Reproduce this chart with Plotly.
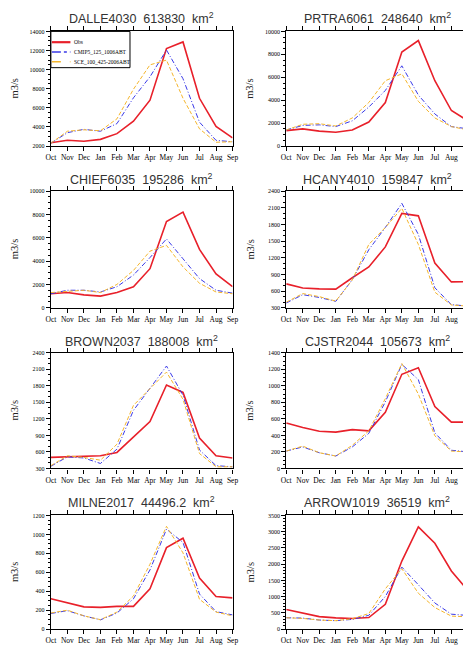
import plotly.graph_objects as go

months = ["Oct", "Nov", "Dec", "Jan", "Feb", "Mar", "Apr", "May", "Jun", "Jul", "Aug", "Sep"]
series_names = ["Obs", "CMIP5_125_1006ABT", "SCE_100_425-2006ABT"]

titles = [
    "DALLE4030  613830  km<sup>2</sup>",
    "PRTRA6061  248640  km<sup>2</sup>",
    "CHIEF6035  195286  km<sup>2</sup>",
    "HCANY4010  159847  km<sup>2</sup>",
    "BROWN2037  188008  km<sup>2</sup>",
    "CJSTR2044  105673  km<sup>2</sup>",
    "MILNE2017  44496.2  km<sup>2</sup>",
    "ARROW1019  36519  km<sup>2</sup>",
]

dalle_obs = [2350, 2600, 2500, 2700, 3300, 4600, 6800, 12200, 12900, 7000, 4050, 2850]
dalle_cmip = [2300, 3400, 3750, 3550, 4350, 7050, 9250, 12050, 9050, 4500, 2600, 2450]
dalle_sce = [2300, 3550, 3700, 3600, 4850, 7950, 10500, 11000, 7000, 3800, 2400, 2450]

prtra_obs = [1350, 1500, 1300, 1200, 1400, 2100, 3800, 8200, 9200, 5700, 3100, 2200]
prtra_cmip = [1400, 1800, 1850, 1700, 2200, 3400, 4850, 7000, 4450, 2800, 1700, 1500]
prtra_sce = [1400, 1900, 1950, 1750, 2450, 3800, 5700, 6300, 3900, 2450, 1700, 1400]

chief_obs = [1200, 1300, 1100, 1000, 1300, 1800, 3350, 7400, 8200, 5000, 2900, 1800]
chief_cmip = [1200, 1500, 1500, 1350, 1800, 2800, 4300, 5900, 4200, 2500, 1500, 1250]
chief_sce = [1300, 1400, 1500, 1300, 2000, 3200, 4850, 5350, 3500, 2100, 1350, 1200]

hcany_obs = [730, 655, 640, 635, 840, 1035, 1395, 2000, 1955, 1105, 765, 770]
hcany_cmip = [385, 535, 485, 415, 805, 1345, 1745, 2180, 1620, 660, 355, 330]
hcany_sce = [400, 555, 500, 420, 800, 1440, 1745, 2090, 1440, 580, 350, 330]

brown_obs = [500, 510, 530, 530, 590, 870, 1150, 1815, 1680, 850, 530, 490]
brown_cmip = [340, 510, 490, 390, 650, 1355, 1755, 2160, 1630, 635, 350, 330]
brown_sce = [350, 530, 500, 450, 740, 1445, 1750, 2050, 1555, 570, 330, 330]

cjstr_obs = [550, 495, 450, 440, 470, 455, 680, 1140, 1220, 750, 560, 560]
cjstr_cmip = [210, 260, 190, 150, 260, 425, 805, 1260, 1075, 430, 220, 200]
cjstr_sce = [210, 270, 190, 150, 280, 455, 845, 1270, 900, 395, 210, 200]

milne_obs = [320, 275, 235, 230, 240, 240, 425, 860, 960, 540, 345, 330]
milne_cmip = [165, 195, 140, 98, 170, 320, 625, 1055, 915, 370, 185, 150]
milne_sce = [170, 200, 140, 100, 180, 350, 685, 1085, 805, 315, 180, 140]

arrow_obs = [605, 505, 385, 345, 325, 355, 765, 2095, 3150, 2645, 1790, 1190]
arrow_cmip = [350, 340, 280, 260, 300, 425, 1005, 1910, 1365, 805, 460, 420]
arrow_sce = [350, 330, 280, 260, 320, 480, 1240, 1860, 1105, 665, 400, 380]

stations = [
    (dalle_obs, dalle_cmip, dalle_sce),
    (prtra_obs, prtra_cmip, prtra_sce),
    (chief_obs, chief_cmip, chief_sce),
    (hcany_obs, hcany_cmip, hcany_sce),
    (brown_obs, brown_cmip, brown_sce),
    (cjstr_obs, cjstr_cmip, cjstr_sce),
    (milne_obs, milne_cmip, milne_sce),
    (arrow_obs, arrow_cmip, arrow_sce),
]

y_ranges = [(2000, 14000), (0, 10000), (0, 10000), (300, 2400),
            (300, 2400), (0, 1400), (0, 1200), (0, 3500)]
y_dticks = [2000, 2000, 2000, 300, 300, 200, 200, 500]
y_minor = [500, 500, 500, 100, 100, 50, 50, 100]

# ---- styling / layout ----
W, H = 469, 645
colors = ["#e8202a", "#3a3ae8", "#f4b52c"]
widths = [1.6, 1.0, 1.0]
dashes = ["solid", "5px,2px,1px,2px", "4px,2px"]

col_px = [(47, 233), (288, 474)]
row_px = [(29, 146), (192, 311), (357, 475), (523, 639)]
title_px = [15, 180, 345, 509]

TICKFONT = "Liberation Serif"
TITLEFONT = "Liberation Sans"

fig = go.Figure()
layout = dict(
    width=W, height=H,
    margin=dict(l=0, r=0, t=0, b=0),
    paper_bgcolor="white", plot_bgcolor="white",
    showlegend=False,
)
annotations = []
shapes = []

for i, data in enumerate(stations):
    r, c = divmod(i, 2)
    x0p, x1p = col_px[c]
    y0p, y1p = row_px[r]
    xd0 = x0p / W
    xd1 = min(x1p, W) / W
    xmax = 11 * (min(x1p, W) - x0p) / (x1p - x0p)
    yd0 = 1 - y1p / H
    yd1 = 1 - y0p / H
    k = "" if i == 0 else str(i + 1)
    for s in range(3):
        fig.add_trace(go.Scatter(
            x=list(range(12)), y=data[s], mode="lines",
            name=series_names[s],
            line=dict(color=colors[s], width=widths[s], dash=dashes[s]),
            xaxis="x" + k, yaxis="y" + k, hoverinfo="skip",
        ))
    layout["xaxis" + k] = dict(
        domain=[xd0, xd1], range=[0, xmax], anchor="y" + k,
        tickmode="array", tickvals=list(range(12)), ticktext=months,
        ticks="outside", ticklen=4, tickwidth=1, tickcolor="black",
        showline=True, linecolor="black", linewidth=1.2, mirror="allticks",
        showgrid=False, zeroline=False,
        tickfont=dict(family=TICKFONT, size=7.5, color="black"),
    )
    layout["yaxis" + k] = dict(
        domain=[yd0, yd1], range=list(y_ranges[i]), anchor="x" + k,
        dtick=y_dticks[i], tick0=0, tickformat="d",
        ticks="outside", ticklen=4, tickwidth=1, tickcolor="black",
        minor=dict(dtick=y_minor[i], tick0=0, ticks="outside", ticklen=2, tickcolor="black"),
        showline=True, linecolor="black", linewidth=1.2,
        mirror=True if c == 0 else False,
        showgrid=False, zeroline=False,
        tickfont=dict(family=TICKFONT, size=6, color="black"),
    )
    # subplot title
    annotations.append(dict(
        x=((x0p + x1p) / 2) / W, y=1 - title_px[r] / H,
        xref="paper", yref="paper", xanchor="center", yanchor="middle",
        text=titles[i], showarrow=False,
        font=dict(family=TITLEFONT, size=12.5, color="#333"),
    ))
    # y-axis title
    annotations.append(dict(
        x=(x0p - 37) / W, y=1 - ((y0p + y1p) / 2) / H,
        xref="paper", yref="paper", xanchor="center", yanchor="middle",
        text="m3/s", textangle=-90, showarrow=False,
        font=dict(family=TICKFONT, size=10.5, color="#222"),
    ))

# manual legend inside first panel
lx0, ly0, lx1, ly1 = 47, 29, 128, 66
shapes.append(dict(type="rect", xref="paper", yref="paper",
                   x0=lx0 / W, x1=lx1 / W, y0=1 - ly1 / H, y1=1 - ly0 / H,
                   line=dict(color="black", width=1), fillcolor="white"))
for s in range(3):
    yy = 40 + 10 * s
    shapes.append(dict(type="line", xref="paper", yref="paper",
                       x0=(lx0 + 1) / W, x1=(lx0 + 20) / W,
                       y0=1 - yy / H, y1=1 - yy / H,
                       line=dict(color=colors[s], width=widths[s] + 0.6,
                                 dash="solid" if s == 0 else ("dashdot" if s == 1 else "dash"))))
    annotations.append(dict(
        x=(lx0 + 22) / W, y=1 - yy / H, xref="paper", yref="paper",
        xanchor="left", yanchor="middle", text=series_names[s], showarrow=False,
        font=dict(family=TICKFONT, size=5.5, color="black"),
    ))

layout["annotations"] = annotations
layout["shapes"] = shapes
fig.update_layout(**layout)
fig.write_html("out.html")
